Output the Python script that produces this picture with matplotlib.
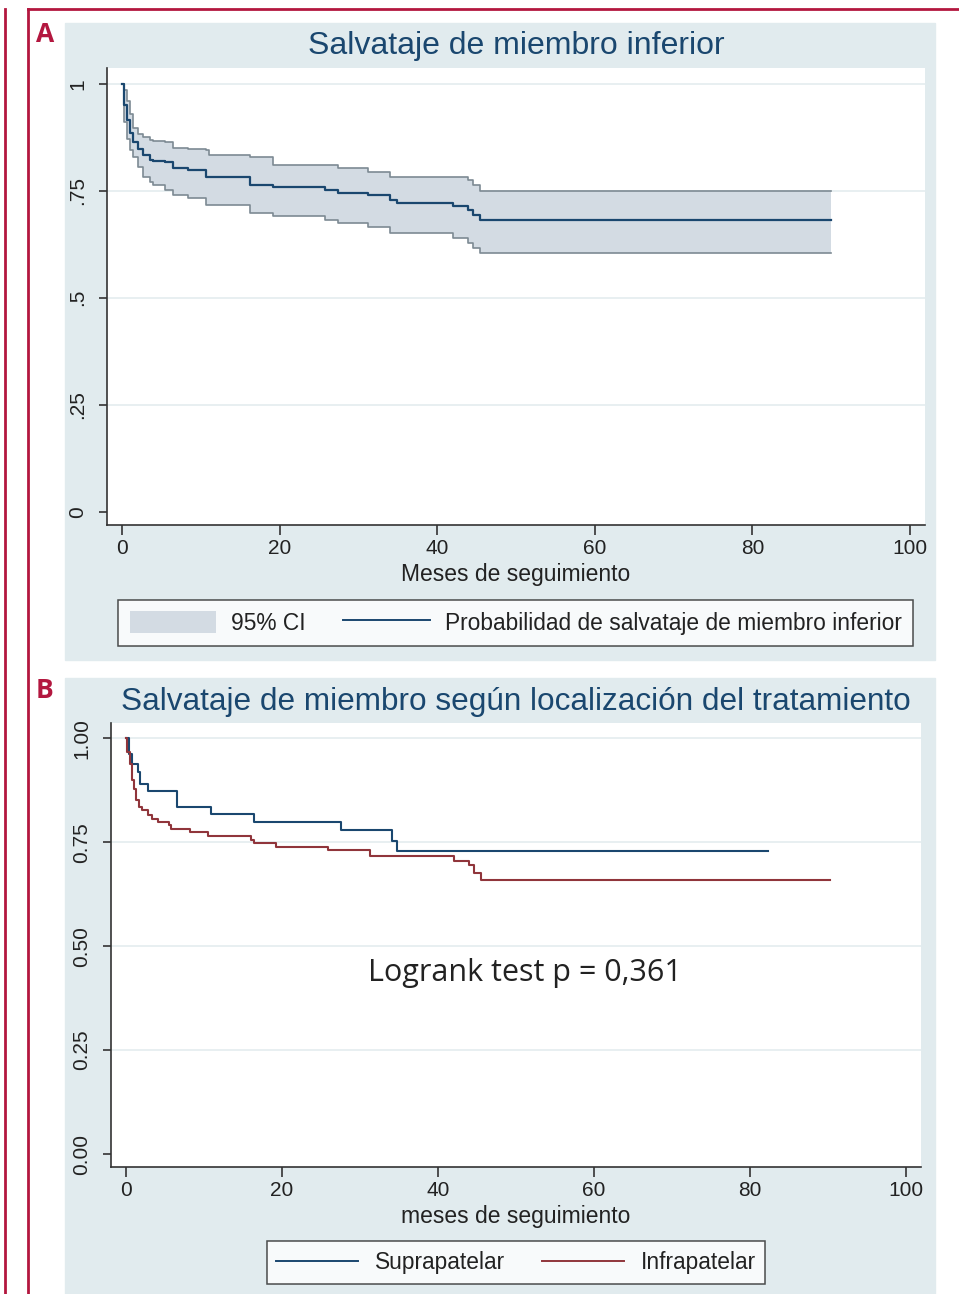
import matplotlib
matplotlib.use('Agg')
from matplotlib import pyplot as plt
from matplotlib.patches import Rectangle, Patch
from matplotlib.lines import Line2D

W, H = 959, 1294

# curva de supervivencia global con su intervalo de confianza
t_a = [0, 0.3, 0.6, 1.0, 1.4, 2.0, 2.7, 3.5, 4.0, 5.5, 6.5, 8.4, 10.7, 11.1,
       16.2, 19.2, 25.8, 27.4, 31.2, 34.0, 34.9, 42.0, 43.9, 44.6, 45.4, 90]
surv_a = [1.0, 0.95, 0.915, 0.885, 0.865, 0.848, 0.834, 0.822, 0.820, 0.818,
          0.803, 0.799, 0.783, 0.783, 0.764, 0.760, 0.752, 0.746, 0.741,
          0.729, 0.721, 0.715, 0.705, 0.694, 0.682, 0.682]
upper_a = [1.0, 0.985, 0.96, 0.93, 0.896, 0.882, 0.875, 0.869, 0.866, 0.864,
           0.850, 0.848, 0.846, 0.834, 0.828, 0.811, 0.811, 0.803, 0.795,
           0.783, 0.783, 0.783, 0.776, 0.764, 0.750, 0.750]
lower_a = [1.0, 0.91, 0.87, 0.845, 0.830, 0.805, 0.783, 0.770, 0.764, 0.752,
           0.741, 0.733, 0.717, 0.717, 0.698, 0.692, 0.682, 0.674, 0.665,
           0.651, 0.651, 0.639, 0.628, 0.616, 0.604, 0.604]

# curvas por localizacion
t_supra = [0, 0.4, 0.85, 1.5, 1.8, 2.9, 6.6, 10.9, 16.4, 27.6, 34.1, 34.8, 82.3]
s_supra = [1.0, 0.963, 0.939, 0.919, 0.891, 0.873, 0.835, 0.819, 0.799,
           0.779, 0.753, 0.728, 0.728]
t_infra = [0, 0.2, 0.55, 0.85, 1.06, 1.3, 1.7, 2.1, 2.8, 3.4, 4.1, 5.5, 5.8,
           8.2, 10.5, 16.0, 16.4, 19.3, 25.9, 31.3, 42.1, 44.0, 44.6, 45.5, 90.3]
s_infra = [1.0, 0.967, 0.939, 0.899, 0.879, 0.851, 0.835, 0.827, 0.815,
           0.807, 0.799, 0.791, 0.783, 0.775, 0.764, 0.755, 0.748, 0.739,
           0.731, 0.716, 0.705, 0.695, 0.675, 0.659, 0.659]

xticks = [0, 20, 40, 60, 80, 100]
yticks = [0, 0.25, 0.5, 0.75, 1]
ylabels_a = ['0', '.25', '.5', '.75', '1']
ylabels_b = ['0.00', '0.25', '0.50', '0.75', '1.00']

navy = '#1a476f'
maroon = '#90353b'
bg = '#e1ebee'
red = '#b3173f'
font = 'Liberation Sans'


def frac(x0, y0, x1, y1):
    return [x0 / W, 1 - y1 / H, (x1 - x0) / W, (y1 - y0) / H]


def style_axes(ax, ylabels, xlabel):
    ax.set_xlim(-1.9, 101.9)
    ax.set_ylim(-0.031, 1.037)
    for s in ['top', 'right']:
        ax.spines[s].set_visible(False)
    for s in ['left', 'bottom']:
        ax.spines[s].set_color('#333333')
        ax.spines[s].set_linewidth(1.2)
    ax.set_xticks(xticks)
    ax.set_xticklabels([str(v) for v in xticks], fontname=font, fontsize=15, color='#222222')
    ax.set_yticks(yticks)
    ax.set_yticklabels(ylabels, fontname=font, fontsize=15, color='#222222',
                       rotation=90, va='center')
    ax.tick_params(axis='x', length=7, width=1.2, color='#333333', pad=3)
    ax.tick_params(axis='y', length=6, width=1.2, color='#333333', pad=8)
    for v in yticks[1:]:
        ax.axhline(v, color='#e6eef0', lw=1.3, zorder=0)
    ax.set_xlabel(xlabel, fontname=font, fontsize=16.5, color='#222222', labelpad=4)


fig = plt.figure(figsize=(W / 100, H / 100), dpi=100)
fig.patch.set_facecolor('white')

# fondos de cada panel
fig.add_artist(Rectangle((65 / W, 1 - 660 / H), 870 / W, 637 / H,
                         transform=fig.transFigure, color=bg, zorder=0))
fig.add_artist(Rectangle((65 / W, 0), 870 / W, 616 / H,
                         transform=fig.transFigure, color=bg, zorder=0))

# marco rojo
fig.add_artist(Line2D([28 / W, 1], [1 - 9 / H, 1 - 9 / H], transform=fig.transFigure,
                      color=red, lw=2))
fig.add_artist(Line2D([28 / W, 28 / W], [0, 1 - 9 / H], transform=fig.transFigure,
                      color=red, lw=2))
fig.add_artist(Line2D([5 / W, 5 / W], [0, 1 - 9 / H], transform=fig.transFigure,
                      color=red, lw=2))
fig.text(45 / W, 1 - 34 / H, 'A', fontname='Open Sans', fontweight='bold',
         fontsize=19, color=red, ha='center', va='center')
fig.text(45 / W, 1 - 690 / H, 'B', fontname='Open Sans', fontweight='bold',
         fontsize=19, color=red, ha='center', va='center')

# panel A
ax_a = fig.add_axes(frac(107, 68, 925, 525))
ax_a.fill_between(t_a, lower_a, upper_a, step='post', color='#d3dbe3', lw=0)
ax_a.step(t_a, upper_a, where='post', color='#7d8a93', lw=1.2)
ax_a.step(t_a, lower_a, where='post', color='#7d8a93', lw=1.2)
ax_a.step(t_a, surv_a, where='post', color=navy, lw=1.6)
style_axes(ax_a, ylabels_a, 'Meses de seguimiento')
fig.text(516 / W, 1 - 46 / H, 'Salvataje de miembro inferior', fontname=font,
         fontsize=23, color=navy, ha='center', va='center')

handles_a = [Patch(facecolor='#d3dbe3', edgecolor='none'),
             Line2D([], [], color=navy, lw=1.4)]
leg_a = fig.legend(handles_a, ['95% CI', 'Probabilidad de salvataje de miembro inferior'],
                   loc='center', bbox_to_anchor=(515.5 / W, 1 - 623 / H), ncol=2,
                   frameon=True, fancybox=False, edgecolor='#222222', facecolor='white',
                   prop={'family': font, 'size': 16.4}, handlelength=3.8,
                   handleheight=1.1, handletextpad=0.65, columnspacing=1.65,
                   borderpad=0.5, borderaxespad=0)
leg_a.get_frame().set_linewidth(1.1)
for txt in leg_a.get_texts():
    txt.set_color('#222222')

# panel B
ax_b = fig.add_axes(frac(111, 723, 921, 1167))
ax_b.step(t_supra, s_supra, where='post', color=navy, lw=1.5)
ax_b.step(t_infra, s_infra, where='post', color=maroon, lw=1.5)
style_axes(ax_b, ylabels_b, 'meses de seguimiento')
ax_b.text(51.2, 0.435, 'Logrank test p = 0,361', fontname='Open Sans', fontsize=22,
          color='#222222', ha='center', va='center')
fig.text(516 / W, 1 - 702 / H, 'Salvataje de miembro según localización del tratamiento',
         fontname=font, fontsize=22.7, color=navy, ha='center', va='center')

handles_b = [Line2D([], [], color=navy, lw=1.4), Line2D([], [], color=maroon, lw=1.4)]
leg_b = fig.legend(handles_b, ['Suprapatelar', 'Infrapatelar'],
                   loc='center', bbox_to_anchor=(516 / W, 1 - 1262.5 / H), ncol=2,
                   frameon=True, fancybox=False, edgecolor='#222222', facecolor='white',
                   prop={'family': font, 'size': 16.4}, handlelength=3.6,
                   handletextpad=0.72, columnspacing=1.65,
                   borderpad=0.42, borderaxespad=0)
leg_b.get_frame().set_linewidth(1.1)
for txt in leg_b.get_texts():
    txt.set_color('#222222')

fig.savefig('out.png', dpi=100)
